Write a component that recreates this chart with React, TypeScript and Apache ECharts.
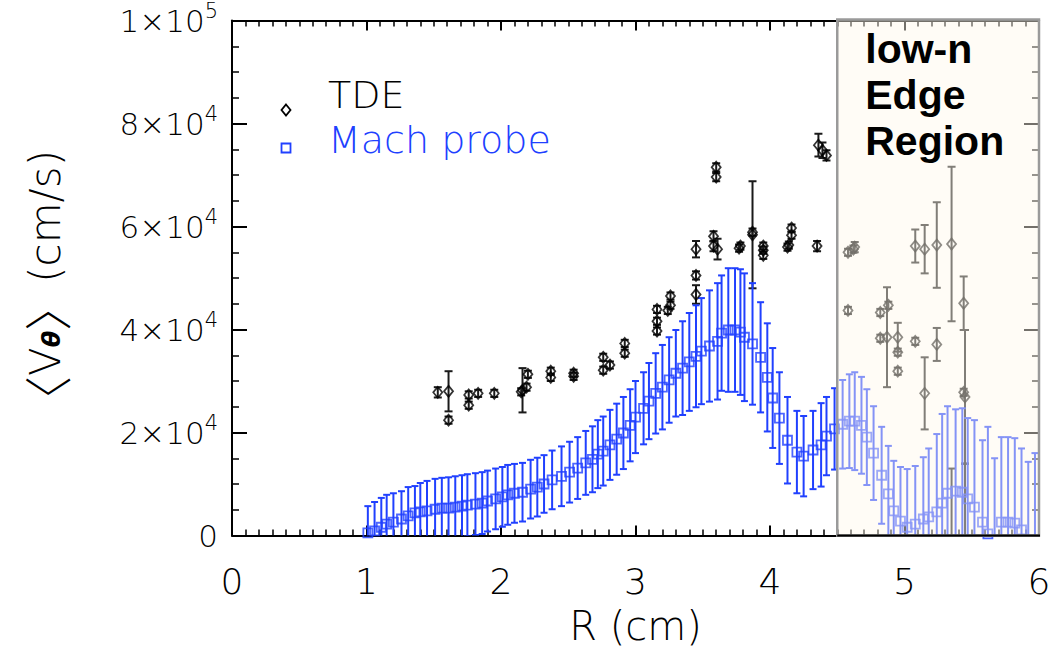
import React, { useEffect, useRef } from 'react';
import * as echarts from 'echarts';

// ---------- axis ticks ----------
const xTickLabels = ['0', '1', '2', '3', '4', '5', '6'];
const yTickMantissa = ['0', '2×10', '4×10', '6×10', '8×10', '1×10'];
const yTickExp = ['', '4', '4', '4', '4', '5'];
const X_MIN = 0;
const X_MAX = 6;
const Y_MIN = 0;
const Y_MAX = 100000;
const EDGE_START = 4.5;
const legendNames = ['TDE', 'Mach probe'];

// ---------- Mach probe (R in cm, V in cm/s, symmetric error) ----------
const machR = [
  1.01, 1.06, 1.11, 1.15, 1.2, 1.26, 1.31, 1.36, 1.4, 1.45, 1.51, 1.56, 1.61, 1.66, 1.71, 1.75,
  1.81, 1.86, 1.9, 1.96, 2.01, 2.05, 2.1, 2.16, 2.22, 2.27, 2.32, 2.38, 2.45, 2.51, 2.57, 2.63,
  2.68, 2.72, 2.76, 2.81, 2.86, 2.91, 2.96, 3.0, 3.06, 3.1, 3.15, 3.2, 3.25, 3.3, 3.35, 3.4,
  3.45, 3.49, 3.55, 3.61, 3.64, 3.69, 3.74, 3.78, 3.81, 3.87, 3.93, 3.98, 4.02, 4.07, 4.13,
  4.2, 4.25, 4.32, 4.38, 4.42, 4.48, 4.54, 4.59, 4.63, 4.68, 4.72, 4.77, 4.83, 4.88, 4.92,
  4.97, 5.02, 5.08, 5.14, 5.18, 5.24, 5.28, 5.32, 5.38, 5.43, 5.47, 5.52, 5.58, 5.62, 5.67,
  5.72, 5.77, 5.82, 5.87, 5.92, 5.97,
];
const machV = [
  500, 900, 1600, 2200, 2600, 3200, 3800, 4400, 4600, 4800, 5100, 5300, 5300, 5500, 5700, 5900,
  6100, 6300, 6700, 7100, 7500, 7900, 8200, 8400, 9000, 9400, 10000, 10800, 11500, 12300, 13100, 14100,
  14800, 15800, 16400, 17600, 18700, 19900, 21400, 23000, 24700, 26100, 27600, 28800, 30200, 31500, 32500, 33700,
  34800, 35800, 36800, 37700, 39300, 39900, 39900, 39500, 38500, 37200, 34600, 30700, 26700, 22800, 18500,
  16200, 15400, 16600, 17600, 19300, 20700, 21600, 22200, 22200, 21400, 19100, 16000, 11700, 8100, 4800,
  2800, 1600, 2200, 3200, 3600, 4600, 6300, 8200, 8600, 8400, 7100, 5500, 2600, 300, -1500,
  2600, 2600, 2400, 1100, -500, -1000,
];
const machErr = [
  5200, 5600, 5700, 5700, 5600, 5400, 5600, 5200, 5600, 5800, 5900, 5900, 6000, 6000, 6000, 6000,
  6000, 6000, 5900, 5900, 5800, 5800, 5700, 5700, 5700, 5700, 5600, 5700, 5800, 5900, 6000, 6200,
  6400, 6600, 6700, 6800, 6900, 7000, 7000, 7000, 7000, 7400, 7800, 8200, 8300, 8400, 9100, 9500,
  9900, 10300, 10800, 11300, 11200, 12000, 12000, 12200, 12400, 11800, 10700, 10500, 9700, 8900, 8400,
  8000, 7800, 7600, 8100, 7600, 7900, 8600, 9100, 9500, 9400, 9300, 9100, 9400, 9300, 9700,
  10500, 11300, 11300, 12000, 13300, 15100, 17300, 16900, 15900, 16300, 15700, 16900, 15900, 20800, 16500,
  16500, 16500, 16500, 15800, 14800, 17000,
];

// ---------- TDE ----------
const tdeR = [
  1.53, 1.61, 1.61, 1.76, 1.76, 1.83, 1.95, 2.15, 2.16, 2.19, 2.2, 2.37, 2.37, 2.54, 2.54, 2.76,
  2.76, 2.81, 2.92, 2.92, 3.16, 3.16, 3.16, 3.24, 3.26, 3.26, 3.45, 3.45, 3.45, 3.58, 3.58, 3.61,
  3.6, 3.6, 3.77, 3.78, 3.87, 3.87, 3.95, 3.95, 3.95, 4.13, 4.14, 4.16, 4.16, 4.35, 4.36, 4.39, 4.42,
  4.58, 4.62, 4.63, 4.58, 4.82, 4.88, 4.82, 4.87, 4.95, 4.95, 4.95, 5.08, 5.15, 5.24, 5.35, 5.44,
  5.08, 5.24, 5.15, 5.35, 5.44, 5.45, 5.45,
];
const tdeV = [
  27800, 28000, 22400, 27300, 25300, 27600, 27600, 27900, 28200, 28800, 31300, 31900, 30700, 31500, 30900, 34600,
  32100, 33100, 37300, 35400, 43900, 41600, 39700, 43700, 46500, 44700, 55600, 50500, 46800, 58100, 56200, 55600,
  71500, 69600, 55800, 56200, 58900, 58400, 56200, 55400, 54400, 56000, 56400, 59700, 58300, 56200, 75800, 74800, 73800,
  55000, 55600, 56000, 43700, 43300, 44700, 38300, 38500, 38500, 35600, 31900, 56200, 55600, 56400, 56600, 45100,
  37700, 37100, 27600, -1500, 27800, 26900, -1500,
];
const tdeErr = [
  1000, 3900, 700, 700, 700, 700, 700, 700, 4300, 700, 700, 700, 700, 700, 700, 700,
  700, 700, 700, 700, 700, 700, 700, 700, 700, 700, 1600, 800, 1800, 1000, 1000, 2000,
  800, 800, 700, 700, 700, 10400, 700, 700, 700, 700, 700, 700, 700, 1000, 2200, 1500, 1000,
  700, 700, 1000, 700, 700, 700, 700, 9700, 2800, 700, 700, 3200, 4700, 8300, 15000, 5200,
  700, 3200, 7000, 14500, 700, 13000, 15500,
];

const BLUE = '#2040ff';
const FONT = '"DejaVu Sans", "Liberation Sans", sans-serif';
const THIN = 200;

function errorSeries(name: string, xs: number[], vs: number[], es: number[], color: string, capHalf: number) {
  return {
    type: 'custom',
    name,
    silent: true,
    clip: true,
    z: 2,
    data: xs.map((x, i) => [x, vs[i] - es[i], vs[i] + es[i]]),
    encode: { x: 0, y: [1, 2] },
    renderItem: (_params: any, api: any) => {
      const x = api.value(0);
      const lo = api.coord([x, api.value(1)]);
      const hi = api.coord([x, api.value(2)]);
      const style = { stroke: color, lineWidth: 2, fill: 'none' };
      return {
        type: 'group',
        children: [
          { type: 'line', shape: { x1: lo[0], y1: lo[1], x2: hi[0], y2: hi[1] }, style },
          { type: 'line', shape: { x1: lo[0] - capHalf, y1: lo[1], x2: lo[0] + capHalf, y2: lo[1] }, style },
          { type: 'line', shape: { x1: hi[0] - capHalf, y1: hi[1], x2: hi[0] + capHalf, y2: hi[1] }, style },
        ],
      };
    },
  };
}

export default function App() {
  const ref = useRef<HTMLDivElement>(null);
  useEffect(() => {
    if (!ref.current) return;
    const chart = echarts.init(ref.current, undefined, { renderer: 'svg' });
    const lineStyle = { color: '#000', width: 2 };
    const xBase = {
      type: 'value',
      min: X_MIN,
      max: X_MAX,
      interval: 1,
      axisLine: { show: true, onZero: false, lineStyle },
      axisTick: { show: true, inside: true, length: 10, lineStyle: { color: '#000', width: 2 } },
      minorTick: { show: true, splitNumber: 10, length: 6, lineStyle: { color: '#000', width: 1.5 } },
      splitLine: { show: false },
      minorSplitLine: { show: false },
    };
    const yBase = {
      type: 'value',
      min: Y_MIN,
      max: Y_MAX,
      interval: 20000,
      axisLine: { show: true, onZero: false, lineStyle },
      axisTick: { show: true, inside: true, length: 15, lineStyle: { color: '#000', width: 2 } },
      minorTick: { show: true, splitNumber: 4, length: 7, lineStyle: { color: '#000', width: 1.5 } },
      splitLine: { show: false },
      minorSplitLine: { show: false },
    };
    const option: any = {
      animation: false,
      backgroundColor: '#ffffff',
      grid: { left: 232, right: 23, top: 20, bottom: 124.5, containLabel: false },
      legend: { show: false },
      xAxis: [
        {
          ...xBase,
          position: 'bottom',
          axisLabel: {
            show: true,
            margin: 28,
            color: '#000',
            fontSize: 36,
            fontFamily: FONT,
            fontWeight: THIN,
            formatter: (_v: number, i: number) => xTickLabels[i] ?? '',
          },
          name: 'R (cm)',
          nameLocation: 'middle',
          nameGap: 70,
          nameTextStyle: { color: '#000', fontSize: 40, fontFamily: FONT, fontWeight: THIN },
        },
        { ...xBase, position: 'top', axisLabel: { show: false } },
      ],
      yAxis: [
        {
          ...yBase,
          position: 'left',
          axisLabel: {
            show: true,
            margin: 14,
            color: '#000',
            formatter: (_v: number, i: number) =>
              yTickExp[i] ? `{a|${yTickMantissa[i]}}{b|${yTickExp[i]}}` : `{a|${yTickMantissa[i] ?? ''}}`,
            rich: {
              a: { fontSize: 31, lineHeight: 34, fontFamily: FONT, fontWeight: THIN, color: '#000' },
              b: { fontSize: 21, lineHeight: 21, padding: [0, 0, 20, 0], fontFamily: FONT, fontWeight: THIN, color: '#000' },
            },
          },
          name: '{p|〈}{a|V}{s|θ}{q|〉}{a|(cm/s)}',
          nameLocation: 'middle',
          nameGap: 163,
          nameRotate: 90,
          nameTextStyle: {
            color: '#000',
            rich: {
              a: { fontSize: 42, lineHeight: 48, fontFamily: FONT, fontWeight: THIN, color: '#000' },
              p: { fontSize: 48, lineHeight: 48, fontFamily: '"Noto Sans CJK SC", sans-serif', fontWeight: 300, color: '#000', padding: [0, 0, 0, -18] },
              q: { fontSize: 48, lineHeight: 48, fontFamily: '"Noto Sans CJK SC", sans-serif', fontWeight: 300, color: '#000', padding: [0, 0, 0, 0] },
              s: { fontSize: 24, lineHeight: 24, padding: [14, 0, 0, 0], fontFamily: FONT, fontWeight: 'bold', fontStyle: 'italic', color: '#000' },
            },
          },
        },
        { ...yBase, position: 'right', axisLabel: { show: false } },
      ],
      series: [
        errorSeries('TDE err', tdeR, tdeV, tdeErr, '#1a1a1a', 4),
        errorSeries('Mach err', machR, machV, machErr, BLUE, 3.5),
        {
          type: 'scatter',
          name: legendNames[0],
          z: 3,
          symbol: 'diamond',
          symbolSize: [9, 11],
          clip: true,
          itemStyle: { color: 'rgba(255,255,255,0)', borderColor: '#000', borderWidth: 1.8 },
          data: tdeR.map((r, i) => [r, tdeV[i]]),
        },
        {
          type: 'scatter',
          name: legendNames[1],
          z: 3,
          symbol: 'rect',
          symbolSize: 9,
          clip: true,
          itemStyle: { color: 'rgba(255,255,255,0)', borderColor: BLUE, borderWidth: 1.8 },
          data: machR.map((r, i) => [r, machV[i]]),
        },
      ],
    };
    chart.setOption(option);

    const p0 = chart.convertToPixel({ xAxisIndex: 0, yAxisIndex: 0 }, [EDGE_START, Y_MAX]) as number[];
    const p1 = chart.convertToPixel({ xAxisIndex: 0, yAxisIndex: 0 }, [X_MAX, Y_MIN]) as number[];
    const legendTextStyle = { fontFamily: FONT, fontWeight: THIN, fontSize: 38, verticalAlign: 'middle', align: 'left' };
    chart.setOption({
      graphic: [
        // legend
        {
          type: 'polygon',
          silent: true,
          z: 50,
          shape: { points: [[286, 104.5], [290.5, 110], [286, 115.5], [281.5, 110]] },
          style: { fill: 'none', stroke: '#000', lineWidth: 1.8 },
        },
        {
          type: 'text',
          silent: true,
          z: 50,
          x: 328,
          y: 95,
          style: { ...legendTextStyle, text: legendNames[0], fill: '#000' },
        },
        {
          type: 'rect',
          silent: true,
          z: 50,
          shape: { x: 281.5, y: 143.5, width: 9, height: 9 },
          style: { fill: 'none', stroke: BLUE, lineWidth: 1.8 },
        },
        {
          type: 'text',
          silent: true,
          z: 50,
          x: 328,
          y: 140,
          style: { ...legendTextStyle, text: legendNames[1], fill: BLUE },
        },
        // low-n edge region overlay
        {
          type: 'rect',
          silent: true,
          z: 100,
          shape: { x: p0[0], y: p0[1] - 1, width: p1[0] - p0[0], height: p1[1] - p0[1] + 1 },
          style: { fill: 'rgba(255,248,235,0.45)', stroke: '#9a9a9a', lineWidth: 2.5 },
        },
        {
          type: 'line',
          silent: true,
          z: 101,
          shape: { x1: p0[0], y1: p1[1], x2: p1[0] + 1, y2: p1[1] },
          style: { stroke: '#000', lineWidth: 2 },
        },
        {
          type: 'text',
          silent: true,
          z: 102,
          x: p0[0] + 28,
          y: p0[1] + 5,
          style: {
            text: 'low-n\nEdge\nRegion',
            fontFamily: '"Liberation Sans", Arial, sans-serif',
            fontWeight: 'bold',
            fontSize: 41,
            lineHeight: 46,
            fill: '#000',
          },
        },
      ],
    });
    return () => chart.dispose();
  }, []);
  return (
    <div
      ref={ref}
      style={{ position: 'absolute', left: 0, top: 0, width: 1062, height: 660, background: '#fff' }}
    />
  );
}
